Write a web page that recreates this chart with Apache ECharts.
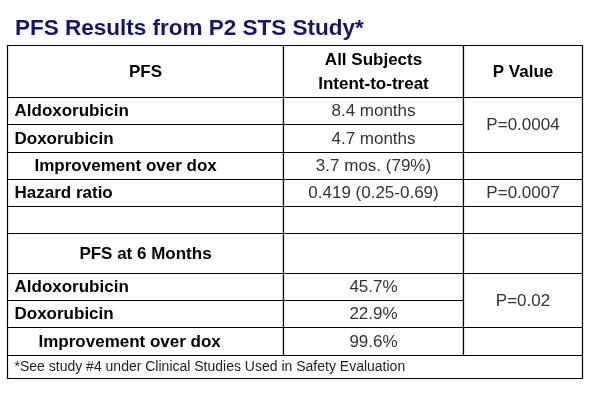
<!DOCTYPE html>
<html>
<head>
<meta charset="utf-8">
<script src="https://cdn.jsdelivr.net/npm/echarts@6/dist/echarts.min.js"></script>
<style>
html,body{margin:0;padding:0;background:#fff;}
#chart{width:592px;height:412px;}
</style>
</head>
<body>
<div id="chart"></div>
<script>
// ---- data ----
var titleText = 'PFS Results from P2 STS Study*';
var headers = ['PFS', 'All Subjects\nIntent-to-treat', 'P Value'];
var rowLabels = ['Aldoxorubicin', 'Doxorubicin', 'Improvement over dox', 'Hazard ratio', '', 'PFS at 6 Months', 'Aldoxorubicin', 'Doxorubicin', 'Improvement over dox'];
var allSubjects = ['8.4 months', '4.7 months', '3.7 mos. (79%)', '0.419 (0.25-0.69)', '', '', '45.7%', '22.9%', '99.6%'];
// null = merged with the cell above
var pValues = ['P=0.0004', null, '', 'P=0.0007', '', '', 'P=0.02', null, ''];
var footnote = '*See study #4 under Clinical Studies Used in Safety Evaluation';

// ---- layout (grid units) ----
var colEdges = [0, 276, 456, 575];
var rowEdges = [0, 52, 79, 107, 134, 161, 188, 228, 255, 282, 310, 333];
var FONT = 'Liberation Sans, Arial, sans-serif';

// build cells: [c0, c1, r0, r1, text, kind]
var cells = [];
headers.forEach(function (h, i) { cells.push([i, i + 1, 0, 1, h, 'head']); });
rowLabels.forEach(function (lab, i) {
  var kind = lab === 'PFS at 6 Months' ? 'subhead' : (lab.indexOf('Improvement') === 0 ? 'indent' : 'label');
  cells.push([0, 1, i + 1, i + 2, lab, kind]);
  cells.push([1, 2, i + 1, i + 2, allSubjects[i], 'value']);
});
pValues.forEach(function (p, i) {
  if (p === null) return;
  var span = 1;
  while (i + span < pValues.length && pValues[i + span] === null) span++;
  cells.push([2, 3, i + 1, i + 1 + span, p, 'value']);
});
cells.push([0, 3, rowLabels.length + 1, rowLabels.length + 2, footnote, 'foot']);

var chart = echarts.init(document.getElementById('chart'));
chart.setOption({
  animation: false,
  backgroundColor: '#fff',
  title: {
    text: titleText, left: 10, top: 12,
    textStyle: { fontFamily: FONT, fontSize: 22.5, fontWeight: 'bold', color: '#15156b' }
  },
  grid: { left: 7, right: 10, top: 45, bottom: 34 },
  xAxis: { type: 'value', min: 0, max: colEdges[colEdges.length - 1], show: false },
  yAxis: { type: 'value', min: 0, max: rowEdges[rowEdges.length - 1], inverse: true, show: false },
  series: [{
    type: 'custom',
    data: cells,
    renderItem: function (params, api) {
      var c0 = api.value(0), c1 = api.value(1), r0 = api.value(2), r1 = api.value(3);
      var d = cells[params.dataIndex];
      var text = d[4], kind = d[5];
      var p0 = api.coord([colEdges[c0], rowEdges[r0]]);
      var p1 = api.coord([colEdges[c1], rowEdges[r1]]);
      var x0 = Math.round(p0[0]) + 0.5, y0 = Math.round(p0[1]) + 0.5;
      var x1 = Math.round(p1[0]) + 0.5, y1 = Math.round(p1[1]) + 0.5;
      var cy = (y0 + y1) / 2 + 0.5;
      var tx, align = 'center', weight = 'normal', color = '#333', size = 17;
      if (kind === 'head' || kind === 'subhead') { tx = (x0 + x1) / 2; weight = 'bold'; color = '#000'; }
      else if (kind === 'label') { tx = x0 + 7; align = 'left'; weight = 'bold'; color = '#000'; }
      else if (kind === 'indent') { tx = x0 + 27; align = 'left'; weight = 'bold'; color = '#000'; }
      else if (kind === 'foot') { tx = x0 + 7; align = 'left'; color = '#222'; size = 14; }
      else { tx = (x0 + x1) / 2; }
      if (kind === 'indent' && r0 > 5) tx = x0 + 31;
      return {
        type: 'group',
        children: [
          { type: 'rect', shape: { x: x0, y: y0, width: x1 - x0, height: y1 - y0 },
            style: { fill: '#fff', stroke: '#000', lineWidth: 1.2 } },
          { type: 'text', style: { text: text, x: tx, y: cy, align: align, verticalAlign: 'middle',
            fill: color, fontFamily: FONT, fontSize: size, fontWeight: weight, lineHeight: 24 } }
        ]
      };
    }
  }]
});
</script>
</body>
</html>
